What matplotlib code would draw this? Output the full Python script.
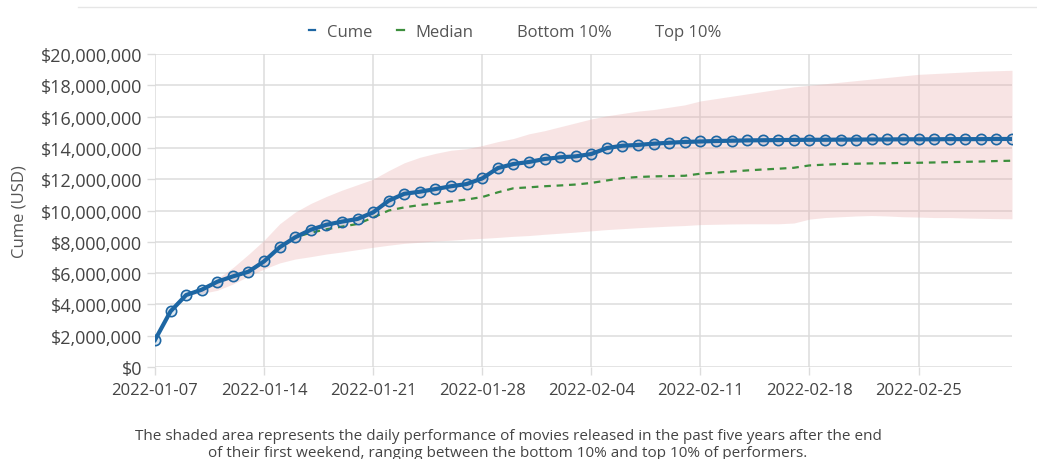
import numpy as np
import pandas as pd
import matplotlib
matplotlib.use("Agg")
import matplotlib.pyplot as plt
import matplotlib.dates as mdates
from matplotlib.lines import Line2D
from matplotlib.ticker import FuncFormatter, MultipleLocator

# ---------------- data (millions USD) ----------------
start_date = "2022-01-07"
n_days = 56
cume = [1.73, 3.56, 4.60, 4.94, 5.45, 5.79, 6.09, 6.75, 7.65, 8.29,
        8.77, 9.09, 9.29, 9.46, 9.88, 10.63, 11.07, 11.20, 11.37, 11.55,
        11.69, 12.05, 12.71, 12.97, 13.10, 13.29, 13.40, 13.46, 13.61, 13.99,
        14.14, 14.19, 14.27, 14.33, 14.38, 14.41, 14.44, 14.46, 14.48, 14.49,
        14.50, 14.51, 14.52, 14.52, 14.53, 14.53, 14.54, 14.54, 14.55, 14.55,
        14.55, 14.56, 14.56, 14.56, 14.57, 14.57]
median = [1.73, 3.56, 4.60, 4.94, 5.45, 5.79, 6.09, 6.75, 7.65, 8.29,
          8.58, 8.80, 8.97, 9.14, 9.55, 10.00, 10.20, 10.35, 10.45, 10.58,
          10.70, 10.86, 11.16, 11.42, 11.48, 11.55, 11.60, 11.66, 11.76, 11.92,
          12.07, 12.14, 12.18, 12.20, 12.22, 12.35, 12.42, 12.49, 12.56, 12.62,
          12.67, 12.73, 12.88, 12.93, 12.97, 12.99, 13.01, 13.02, 13.04, 13.05,
          13.07, 13.09, 13.11, 13.13, 13.16, 13.18]
top10 = [np.nan, np.nan, 4.60, 5.10, 5.65, 6.35, 7.20, 8.10, 9.15, 9.90,
         10.45, 10.90, 11.30, 11.65, 12.00, 12.55, 13.05, 13.40, 13.65, 13.85,
         13.95, 14.15, 14.40, 14.60, 14.90, 15.10, 15.35, 15.60, 15.85, 16.05,
         16.20, 16.35, 16.45, 16.60, 16.75, 17.00, 17.15, 17.30, 17.45, 17.60,
         17.75, 17.90, 18.00, 18.10, 18.20, 18.30, 18.40, 18.50, 18.60, 18.70,
         18.75, 18.80, 18.85, 18.90, 18.93, 18.96]
bottom10 = [np.nan, np.nan, 4.60, 4.70, 4.90, 5.30, 5.80, 6.26, 6.65, 6.90,
            7.05, 7.22, 7.35, 7.50, 7.65, 7.78, 7.90, 7.97, 8.05, 8.10,
            8.17, 8.22, 8.28, 8.35, 8.40, 8.48, 8.55, 8.62, 8.70, 8.78,
            8.84, 8.90, 8.95, 9.00, 9.04, 9.10, 9.12, 9.14, 9.15, 9.15,
            9.15, 9.20, 9.45, 9.55, 9.60, 9.65, 9.68, 9.65, 9.60, 9.58,
            9.55, 9.55, 9.52, 9.50, 9.48, 9.47]
tick_dates = ["2022-01-07", "2022-01-14", "2022-01-21", "2022-01-28",
              "2022-02-04", "2022-02-11", "2022-02-18", "2022-02-25"]
legend_labels = ["Cume", "Median", "Bottom 10%", "Top 10%"]
caption = ("The shaded area represents the daily performance of movies released in the past five years after the end\n"
           "of their first weekend, ranging between the bottom 10% and top 10% of performers.")

dates = pd.date_range(start_date, periods=n_days, freq="D")
scale = 1e6
cume_v = np.array(cume) * scale
median_v = np.array(median) * scale
top_v = np.array(top10) * scale
bot_v = np.array(bottom10) * scale

# ---------------- style ----------------
plt.rcParams['font.family'] = ['Open Sans', 'DejaVu Sans']
text_col = "#444444"
grid_col = "#dcdcdc"
blue = "#1d66a3"
green = "#3d8f3d"

fig = plt.figure(figsize=(10.37, 4.60), dpi=100)
ax = fig.add_axes([155/1037, 1 - 368/460, (1012-155)/1037, (368-55)/460])

ax.fill_between(dates, bot_v, top_v, color="#e8a8a8", alpha=0.3, linewidth=0, zorder=1)
ax.plot(dates, median_v, color=green, lw=1.6, dashes=(3, 2.6), zorder=3)
ax.plot(dates, cume_v, color=blue, lw=3.0, marker="o", markersize=7.4,
        markerfacecolor=(0.12, 0.42, 0.65, 0.15), markeredgecolor=blue,
        markeredgewidth=1.2, zorder=4)

ax.set_xlim(dates[0], dates[-1])
ax.set_ylim(0, 20e6)
ax.yaxis.set_major_locator(MultipleLocator(2e6))
ax.yaxis.set_major_formatter(FuncFormatter(lambda v, p: "${:,.0f}".format(v)))
ax.set_xticks(pd.to_datetime(tick_dates))
ax.xaxis.set_major_formatter(mdates.DateFormatter("%Y-%m-%d"))

ax.grid(True, color=grid_col, lw=1.1, zorder=0)
ax.set_axisbelow(True)
for s in ax.spines.values():
    s.set_visible(False)
ax.tick_params(axis="both", colors=grid_col, labelcolor=text_col,
               length=6, width=1)
ax.tick_params(axis="x", labelsize=12, pad=5)
ax.tick_params(axis="y", labelsize=13, pad=3)
ax.set_ylabel("Cume (USD)", color="#555555", fontsize=12)
ax.yaxis.set_label_coords(-0.149, 0.5)

handles = [Line2D([], [], color=blue, lw=1.6),
           Line2D([], [], color=green, lw=1.6),
           Line2D([], [], color="none"),
           Line2D([], [], color="none")]
fig.legend(handles, legend_labels, loc="center", bbox_to_anchor=(515/1037, 1 - 33/460),
           ncol=4, frameon=False, fontsize=12, handlelength=0.4, handletextpad=0.7,
           columnspacing=1.5, labelcolor="#555555")

fig.text(508/1037, 1 - 445/460, caption, ha="center", va="center", fontsize=11,
         color=text_col, linespacing=1.25)

fig.add_artist(Line2D([78/1037, 1], [1 - 7.5/460, 1 - 7.5/460], color="#e6e6e6", lw=1))

fig.savefig("out.png", dpi=100)
